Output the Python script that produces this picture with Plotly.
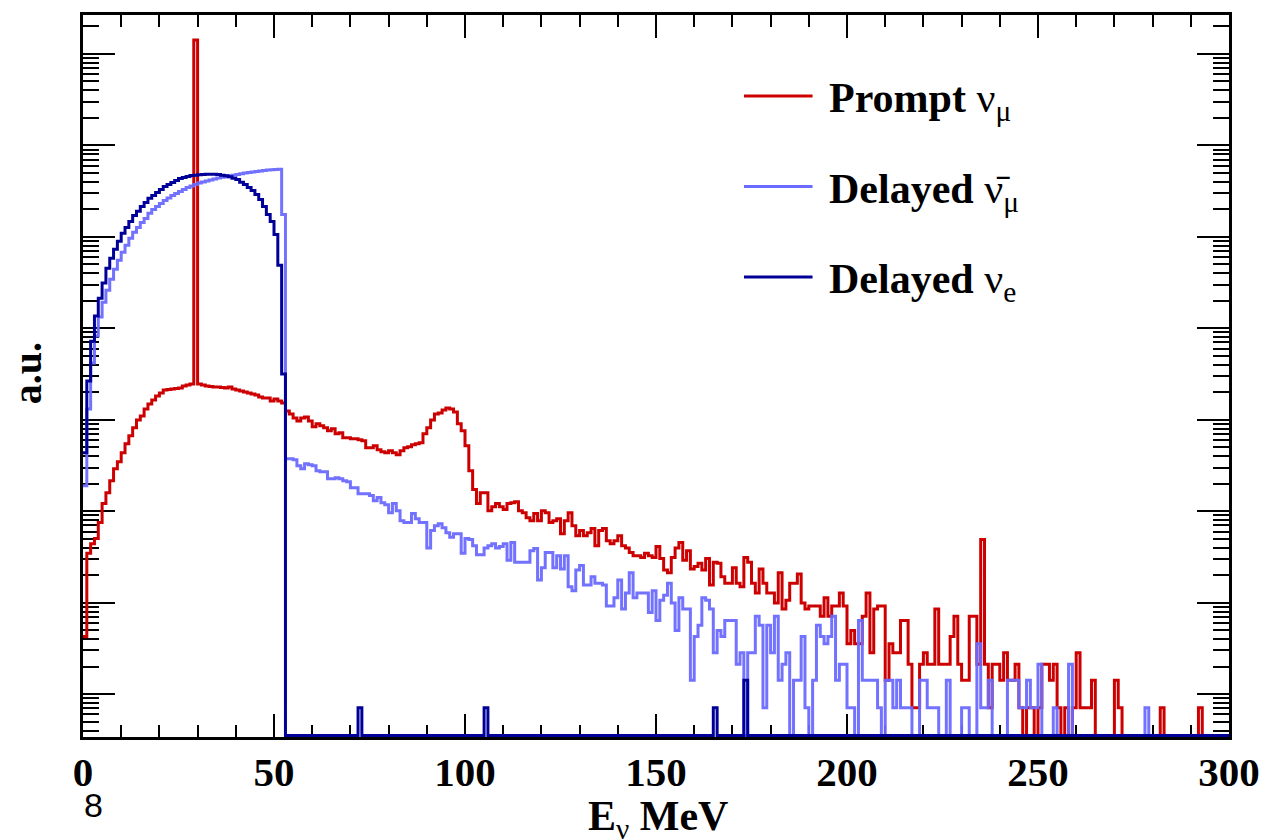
import numpy as np
import plotly.graph_objects as go

# ---------------- data (counts per 1 MeV bin) ----------------
E_MIN, E_MAX, BIN_WIDTH = 0, 300, 1  # MeV

prompt_numu_counts = [
    6, 49, 62, 71, 106, 171, 225, 304, 411, 490,
    614, 770, 942, 1151, 1406, 1555, 1854, 2101, 2323, 2570,
    2772, 2990, 3027, 3065, 3104, 3143, 3305, 3390, 3475, 20000000,
    3475, 3390, 3305, 3264, 3222, 3222, 3183, 3143, 3222, 3065,
    2990, 2915, 2843, 2772, 2703, 2636, 2506, 2444, 2444, 2266,
    2383, 2266, 2155, 1763, 1635, 1478, 1371, 1478, 1516, 1371,
    1180, 1273, 1210, 1151, 1067, 1122, 990, 1015, 896, 896,
    873, 873, 852, 830, 697, 697, 732, 662, 630, 614,
    646, 614, 584, 646, 697, 714, 751, 770, 789, 990,
    1151, 1406, 1635, 1677, 1808, 1902, 1854, 1719, 1273, 1067,
    732, 391, 243, 171, 225, 225, 143, 158, 171, 158,
    147, 171, 175, 179, 143, 136, 120, 111, 133, 111,
    143, 136, 106, 111, 117, 80, 111, 136, 98, 76,
    87, 76, 82, 91, 59, 87, 91, 67, 62, 67,
    76, 59, 56, 50, 46, 46, 44, 49, 46, 44,
    58, 43, 32, 30, 44, 56, 64, 41, 52, 33,
    35, 38, 32, 43, 22, 39, 38, 27, 23, 23,
    34, 23, 21, 44, 39, 23, 18, 33, 23, 18,
    18, 14, 30, 12, 15, 23, 23, 29, 14, 12,
    13, 13, 13, 10, 16, 10, 13, 13, 18, 13,
    5, 7, 5, 5, 10, 18, 4, 12, 13, 13,
    2, 5, 4, 4, 9, 9, 3, 1, 1, 3,
    4, 3, 3, 12, 3, 3, 3, 6, 10, 3,
    2, 2, 10, 10, 3, 69, 3, 1, 3, 3,
    2, 4, 2, 2, 3, 1, 0, 1, 1, 0,
    1, 3, 3, 2, 3, 1, 0, 1, 0, 1,
    4, 1, 1, 1, 2, 0, 0, 0, 0, 0,
    2, 1, 0, 0, 0, 0, 0, 0, 0, 0,
    0, 0, 1, 0, 0, 0, 0, 0, 0, 0,
    0, 0, 1, 0, 0, 0, 0, 0, 0, 0,
]

delayed_numubar_counts = [
    268, 1854, 5890, 11600, 18700, 27200, 36800, 48500, 62400, 78200,
    95500, 114000, 136000, 158000, 179000, 203000, 224000, 255000, 281000, 303000,
    327000, 353000, 376000, 400000, 421000, 442000, 465000, 489000, 508000, 527000,
    548000, 561000, 576000, 590000, 605000, 621000, 632000, 641000, 653000, 664000,
    678000, 690000, 702000, 713000, 722000, 731000, 740000, 750000, 757000, 763000,
    769000, 773000, 248000, 528, 528, 515, 443, 411, 466, 454,
    443, 391, 381, 381, 320, 320, 328, 320, 304, 297,
    255, 255, 219, 219, 219, 209, 184, 199, 175, 166,
    136, 171, 143, 111, 106, 106, 133, 117, 106, 106,
    56, 87, 98, 103, 93, 82, 73, 80, 80, 49,
    71, 69, 59, 47, 47, 56, 59, 62, 56, 58,
    62, 41, 64, 39, 39, 39, 39, 52, 55, 25,
    34, 50, 50, 34, 46, 33, 46, 21, 19, 32,
    36, 22, 22, 27, 23, 23, 22, 13, 13, 16,
    25, 12, 18, 30, 16, 18, 18, 18, 11, 19,
    9, 15, 17, 23, 14, 7, 16, 12, 12, 2,
    6, 8, 16, 15, 12, 4, 7, 6, 9, 9,
    9, 3, 4, 0, 4, 4, 10, 8, 1, 8,
    4, 10, 2, 3, 4, 0, 2, 2, 6, 1,
    0, 2, 8, 6, 5, 6, 10, 2, 3, 3,
    1, 1, 0, 9, 2, 2, 2, 2, 1, 0,
    2, 2, 1, 2, 1, 1, 1, 0, 0, 2,
    2, 1, 1, 1, 0, 0, 2, 0, 0, 0,
    1, 1, 0, 0, 5, 1, 1, 2, 0, 0,
    0, 0, 2, 2, 2, 1, 1, 2, 1, 1,
    3, 0, 0, 0, 1, 0, 0, 0, 3, 0,
    0, 0, 0, 0, 0, 0, 0, 0, 0, 0,
    0, 0, 0, 0, 0, 0, 0, 0, 1, 0,
    0, 0, 0, 0, 0, 0, 0, 0, 0, 0,
    0, 0, 0, 0, 0, 0, 0, 0, 0, 0,
]

# delayed nu_e: bins 0..52 MeV, then only a few isolated entries
delayed_nue_counts_low = [
    614, 3750, 10200, 19200, 30100, 44000, 64000, 82200, 103000, 126000,
    154000, 179000, 208000, 242000, 268000, 303000, 336000, 372000, 400000, 431000,
    465000, 502000, 527000, 554000, 583000, 613000, 629000, 645000, 661000, 666000,
    673000, 678000, 683000, 683000, 681000, 678000, 666000, 656000, 640000, 618000,
    597000, 558000, 527000, 489000, 454000, 410000, 362000, 303000, 248000, 208000,
    150000, 69000, 4470,
]
delayed_nue_isolated_bins = [72, 105, 165, 173]
delayed_nue_isolated_counts = [1, 1, 1, 2]

COUNT_TO_AU = 0.709          # arbitrary normalisation of one entry
Y_LOG_RANGE = [-0.469, 7.426]
ZERO_LEVEL = 0.353           # empty bins are drawn on the frame bottom

# ---------------- build histograms ----------------
edges = np.arange(E_MIN, E_MAX + BIN_WIDTH, BIN_WIDTH)
nbins = len(edges) - 1

nue = np.zeros(nbins)
nue[:len(delayed_nue_counts_low)] = delayed_nue_counts_low
for b, c in zip(delayed_nue_isolated_bins, delayed_nue_isolated_counts):
    nue[b] = c


def step_y(counts):
    c = np.asarray(counts, dtype=float)
    y = np.where(c > 0, c * COUNT_TO_AU, ZERO_LEVEL)
    return np.append(y, y[-1])


RED = "#CC0000"
LIGHT = "#6B6BFF"
DARK = "#000099"

fig = go.Figure()
fig.add_trace(go.Scatter(x=edges, y=step_y(prompt_numu_counts), mode="lines",
                         line=dict(shape="hv", color=RED, width=3), showlegend=False,
                         name="Prompt ν_μ"))
fig.add_trace(go.Scatter(x=edges, y=step_y(delayed_numubar_counts), mode="lines",
                         line=dict(shape="hv", color=LIGHT, width=3), opacity=0.95,
                         showlegend=False, name="Delayed anti-ν_μ"))
fig.add_trace(go.Scatter(x=edges, y=step_y(nue), mode="lines",
                         line=dict(shape="hv", color=DARK, width=3), showlegend=False,
                         name="Delayed ν_e"))

# ---------------- layout ----------------
W, H = 1272, 840
L, R, T, B = 83, 36, 13, 103
PW, PH = W - L - R, H - T - B


def px_x(x):
    return (x - L) / PW


def px_y(y):
    return (H - B - y) / PH


SERIF = "Liberation Serif"

fig.update_layout(
    width=W, height=H, autosize=False,
    margin=dict(l=L, r=R, t=T, b=B, pad=0),
    paper_bgcolor="white", plot_bgcolor="white",
    showlegend=False,
    xaxis=dict(
        range=[E_MIN, E_MAX], tickmode="array", tickvals=list(range(0, 301, 50)),
        ticks="inside", ticklen=23, tickwidth=1.5, tickcolor="black",
        minor=dict(dtick=10, ticks="inside", ticklen=12, tickwidth=1.5, tickcolor="black", showgrid=False),
        showline=True, linewidth=2.5, linecolor="black", mirror="ticks",
        showgrid=False, zeroline=False,
        tickfont=dict(family=SERIF, size=41, color="black", weight="bold"),
        ticklabelstandoff=-3, ticklabeloverflow="allow",
        layer="below traces",
    ),
    yaxis=dict(
        type="log", range=Y_LOG_RANGE, dtick=1,
        ticks="inside", ticklen=32, tickwidth=1.5, tickcolor="black",
        minor=dict(dtick="D1", ticks="inside", ticklen=16, tickwidth=1.5, tickcolor="black", showgrid=False),
        showline=True, linewidth=2.5, linecolor="black", mirror="ticks",
        showgrid=False, zeroline=False, showticklabels=False,
        layer="below traces",
    ),
)

# legend (drawn by hand to mimic the ROOT legend)
legend_rows = [
    ("<b>Prompt </b>ν<sub>μ</sub>", RED, 94.3),
    ("<b>Delayed </b>ν̄<sub>μ</sub>", LIGHT, 185.0),
    ("<b>Delayed </b>ν<sub>e</sub>", DARK, 275.7),
]
for text, color, ypx in legend_rows:
    fig.add_shape(type="line", xref="paper", yref="paper",
                  x0=px_x(748), x1=px_x(817), y0=px_y(ypx), y1=px_y(ypx),
                  line=dict(color=color, width=3))
    fig.add_annotation(text=text, xref="paper", yref="paper",
                       x=px_x(832), y=px_y(ypx + 5), xanchor="left", yanchor="middle",
                       showarrow=False, font=dict(family=SERIF, size=42, color="black"))

fig.add_annotation(text="<b>a.u.</b>", xref="paper", yref="paper",
                   x=px_x(27), y=px_y(372), xanchor="center", yanchor="middle",
                   textangle=-90, showarrow=False,
                   font=dict(family=SERIF, size=40, color="black"))
fig.add_annotation(text="<b>E</b><sub>ν</sub><b> MeV</b>", xref="paper", yref="paper",
                   x=px_x(662), y=px_y(791), xanchor="center", yanchor="top",
                   showarrow=False, font=dict(family=SERIF, size=42, color="black"))
fig.add_annotation(text="8", xref="paper", yref="paper",
                   x=px_x(94), y=px_y(805), xanchor="center", yanchor="middle",
                   showarrow=False, font=dict(family="Liberation Sans", size=34, color="black"))

fig.write_html(
    "out.html",
    config={"displayModeBar": False, "responsive": False},
    post_script=(
        "document.documentElement.style.overflow='hidden';"
        "document.body.style.overflow='hidden';"
        "document.body.style.margin='0';"
    ),
)
